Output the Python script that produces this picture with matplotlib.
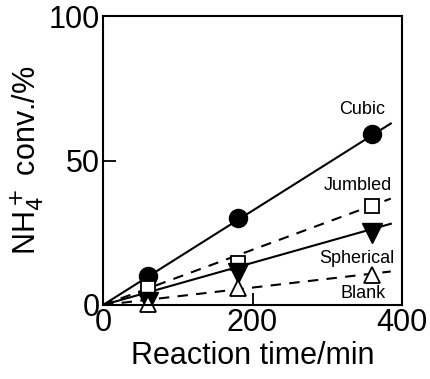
import matplotlib
matplotlib.use("Agg")
import matplotlib.pyplot as plt

plt.rcParams['font.family'] = ['Liberation Sans', 'DejaVu Sans']

# reaction time (min) and NH4+ conversion (%)
times = [60, 180, 360]
cubic = [10, 30, 59]
jumbled = [6, 14.5, 34.4]
spherical = [1, 11, 24.8]
blank = [0.5, 5.8, 10.4]

# fitted lines through origin, value at end x
fit_x = [0, 385]
fit_cubic = [0, 62.8]
fit_jumbled = [0, 36.8]
fit_spherical = [0, 28.1]
fit_blank = [0, 11.6]

fig = plt.figure(figsize=(4.30, 3.79), dpi=100)
ax = fig.add_axes([103/430, 1 - 305/379, 299/430, 289/379])

lw = 1.5
ax.plot(fit_x, fit_cubic, '-', color='black', lw=lw)
ax.plot(fit_x, fit_jumbled, '--', color='black', lw=lw, dashes=(5, 4))
ax.plot(fit_x, fit_spherical, '-', color='black', lw=lw)
ax.plot(fit_x, fit_blank, '--', color='black', lw=lw, dashes=(5, 4))

ax.plot(times, cubic, 'o', ms=13, color='black', clip_on=False)
ax.plot(times, jumbled, 's', ms=10, mfc='white', mec='black', mew=1.3, clip_on=False)
ax.plot(times, spherical, 'v', ms=14, color='black', clip_on=False)
ax.plot(times, blank, '^', ms=12, mfc='white', mec='black', mew=1.3, clip_on=False)

ax.text(347, 67.5, 'Cubic', fontsize=13, ha='center', va='center')
ax.text(341, 41.5, 'Jumbled', fontsize=13, ha='center', va='center')
ax.text(340, 16, 'Spherical', fontsize=13, ha='center', va='center')
ax.text(348, 4, 'Blank', fontsize=13, ha='center', va='center')

ax.set_xlim(0, 400)
ax.set_ylim(0, 100)
ax.set_xticks([0, 200, 400])
ax.set_yticks([0, 50, 100])
ax.tick_params(direction='in', length=9, width=1.3, labelsize=22, pad=2)
for s in ax.spines.values():
    s.set_linewidth(1.5)

ax.set_xlabel('Reaction time/min', fontsize=22, labelpad=2)
ax.set_ylabel('NH$_4^+$ conv./%', fontsize=22, labelpad=2)

fig.savefig('out.png', dpi=100)
